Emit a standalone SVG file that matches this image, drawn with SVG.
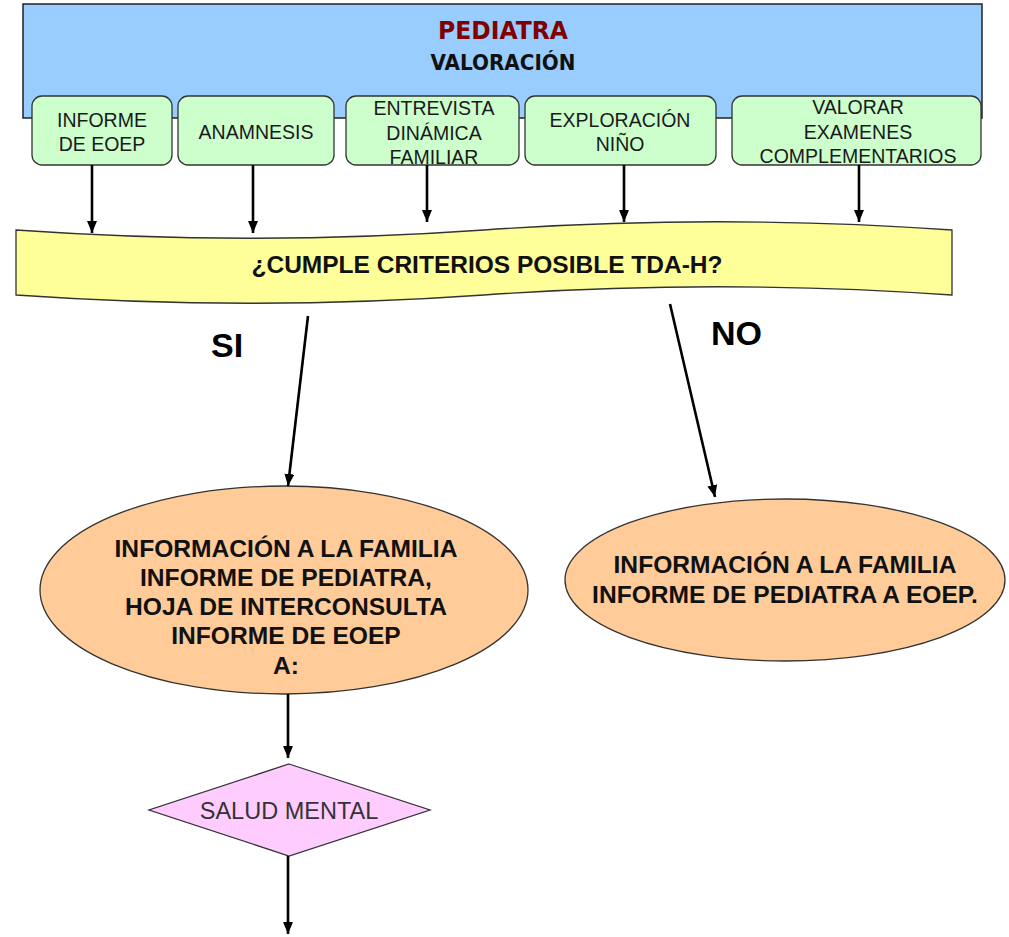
<svg xmlns="http://www.w3.org/2000/svg" width="1009" height="937" viewBox="0 0 1009 937">
<defs>
<marker id="ah" viewBox="0 0 12 10" refX="12" refY="5" markerWidth="12" markerHeight="10" markerUnits="userSpaceOnUse" orient="auto">
<path d="M0,0 L12,5 L0,10 z" fill="#000"/>
</marker>
<style>
.box{fill:#CCFFCC;stroke:#333;stroke-width:1.3}
.bt{font-family:"Liberation Sans",Arial,sans-serif;font-size:19.5px;fill:#1a1a1a;text-anchor:middle}
.et{font-family:"Liberation Sans",Arial,sans-serif;font-size:24.6px;font-weight:bold;fill:#111;text-anchor:middle}
.ell{fill:#FFCC99;stroke:#333;stroke-width:1.3}
.conn line{stroke:#000;stroke-width:2.6;marker-end:url(#ah)}
.lbl{font-family:"Liberation Sans",Arial,sans-serif;font-size:34px;font-weight:bold;fill:#000}
</style>
</defs>
<rect width="1009" height="937" fill="#fff"/>
<g id="pediatra">
<rect x="23" y="4" width="959" height="114" fill="#99CCFF" stroke="#222" stroke-width="1.5"/>
<text x="503" y="39" text-anchor="middle" font-family="'DejaVu Sans',Verdana,sans-serif" font-size="25" font-weight="bold" fill="#800000" textLength="130" lengthAdjust="spacingAndGlyphs">PEDIATRA</text>
<text x="503" y="70" text-anchor="middle" font-family="'DejaVu Sans',Verdana,sans-serif" font-size="21" font-weight="bold" fill="#111" textLength="145" lengthAdjust="spacingAndGlyphs">VALORACIÓN</text>
</g>
<g id="informe-eoep">
<rect class="box" x="32" y="96" width="140" height="69" rx="10"/>
<text class="bt" x="102" y="126.5">INFORME</text>
<text class="bt" x="102" y="150.5">DE EOEP</text>
</g>
<g id="anamnesis">
<rect class="box" x="178" y="96" width="156" height="69" rx="10"/>
<text class="bt" x="256" y="138.5">ANAMNESIS</text>
</g>
<g id="entrevista">
<rect class="box" x="346" y="96" width="173" height="69" rx="10"/>
<text class="bt" x="434" y="115">ENTREVISTA</text>
<text class="bt" x="434" y="139.5">DINÁMICA</text>
<text class="bt" x="434" y="163.5">FAMILIAR</text>
</g>
<g id="exploracion">
<rect class="box" x="525" y="96" width="191" height="69" rx="10"/>
<text class="bt" x="620" y="126.5">EXPLORACIÓN</text>
<text class="bt" x="620" y="150.5">NIÑO</text>
</g>
<g id="valorar">
<rect class="box" x="732" y="96" width="249" height="69" rx="10"/>
<text class="bt" x="858" y="114">VALORAR</text>
<text class="bt" x="858" y="138.5">EXAMENES</text>
<text class="bt" x="858" y="163">COMPLEMENTARIOS</text>
</g>
<g id="criterios">
<path d="M16,230 C172,241 328,241 484,230 C640,219 796,219 952,230 L952,295 C796,284 640,284 484,295 C328,306 172,306 16,295 Z" fill="#FFFF99" stroke="#333" stroke-width="1.3"/>
<text x="487" y="273" text-anchor="middle" font-family="'Liberation Sans',Arial,sans-serif" font-size="24.5" font-weight="bold" fill="#111">¿CUMPLE CRITERIOS POSIBLE TDA-H?</text>
</g>
<g id="info-si">
<ellipse class="ell" cx="284" cy="590" rx="244" ry="104"/>
<text class="et" x="286" y="557">INFORMACIÓN A LA FAMILIA</text>
<text class="et" x="286" y="586">INFORME DE PEDIATRA,</text>
<text class="et" x="286" y="615">HOJA DE INTERCONSULTA</text>
<text class="et" x="286" y="644">INFORME DE EOEP</text>
<text class="et" x="286" y="674">A:</text>
</g>
<g id="info-no">
<ellipse class="ell" cx="785" cy="580" rx="220" ry="81"/>
<text class="et" x="785" y="573">INFORMACIÓN A LA FAMILIA</text>
<text class="et" x="785" y="603">INFORME DE PEDIATRA A EOEP.</text>
</g>
<g id="salud-mental">
<path d="M289,764 L430,810 L289,856 L149,810 Z" fill="#FFCCFF" stroke="#333" stroke-width="1.3"/>
<text x="289" y="819" text-anchor="middle" font-family="'Liberation Sans',Arial,sans-serif" font-size="23.5" fill="#333">SALUD MENTAL</text>
</g>
<g id="labels">
<text class="lbl" x="211" y="357">SI</text>
<text class="lbl" x="711" y="345">NO</text>
</g>
<g class="conn" id="connectors">
<line x1="92" y1="165" x2="92" y2="233"/>
<line x1="253" y1="165" x2="253" y2="233"/>
<line x1="427" y1="165" x2="427" y2="222"/>
<line x1="624" y1="165" x2="624" y2="222"/>
<line x1="859" y1="165" x2="859" y2="222"/>
<line x1="308" y1="316" x2="288" y2="486"/>
<line x1="670" y1="304" x2="715" y2="497"/>
<line x1="288" y1="694" x2="288" y2="758"/>
<line x1="288" y1="856" x2="288" y2="934"/>
</g>
</svg>
